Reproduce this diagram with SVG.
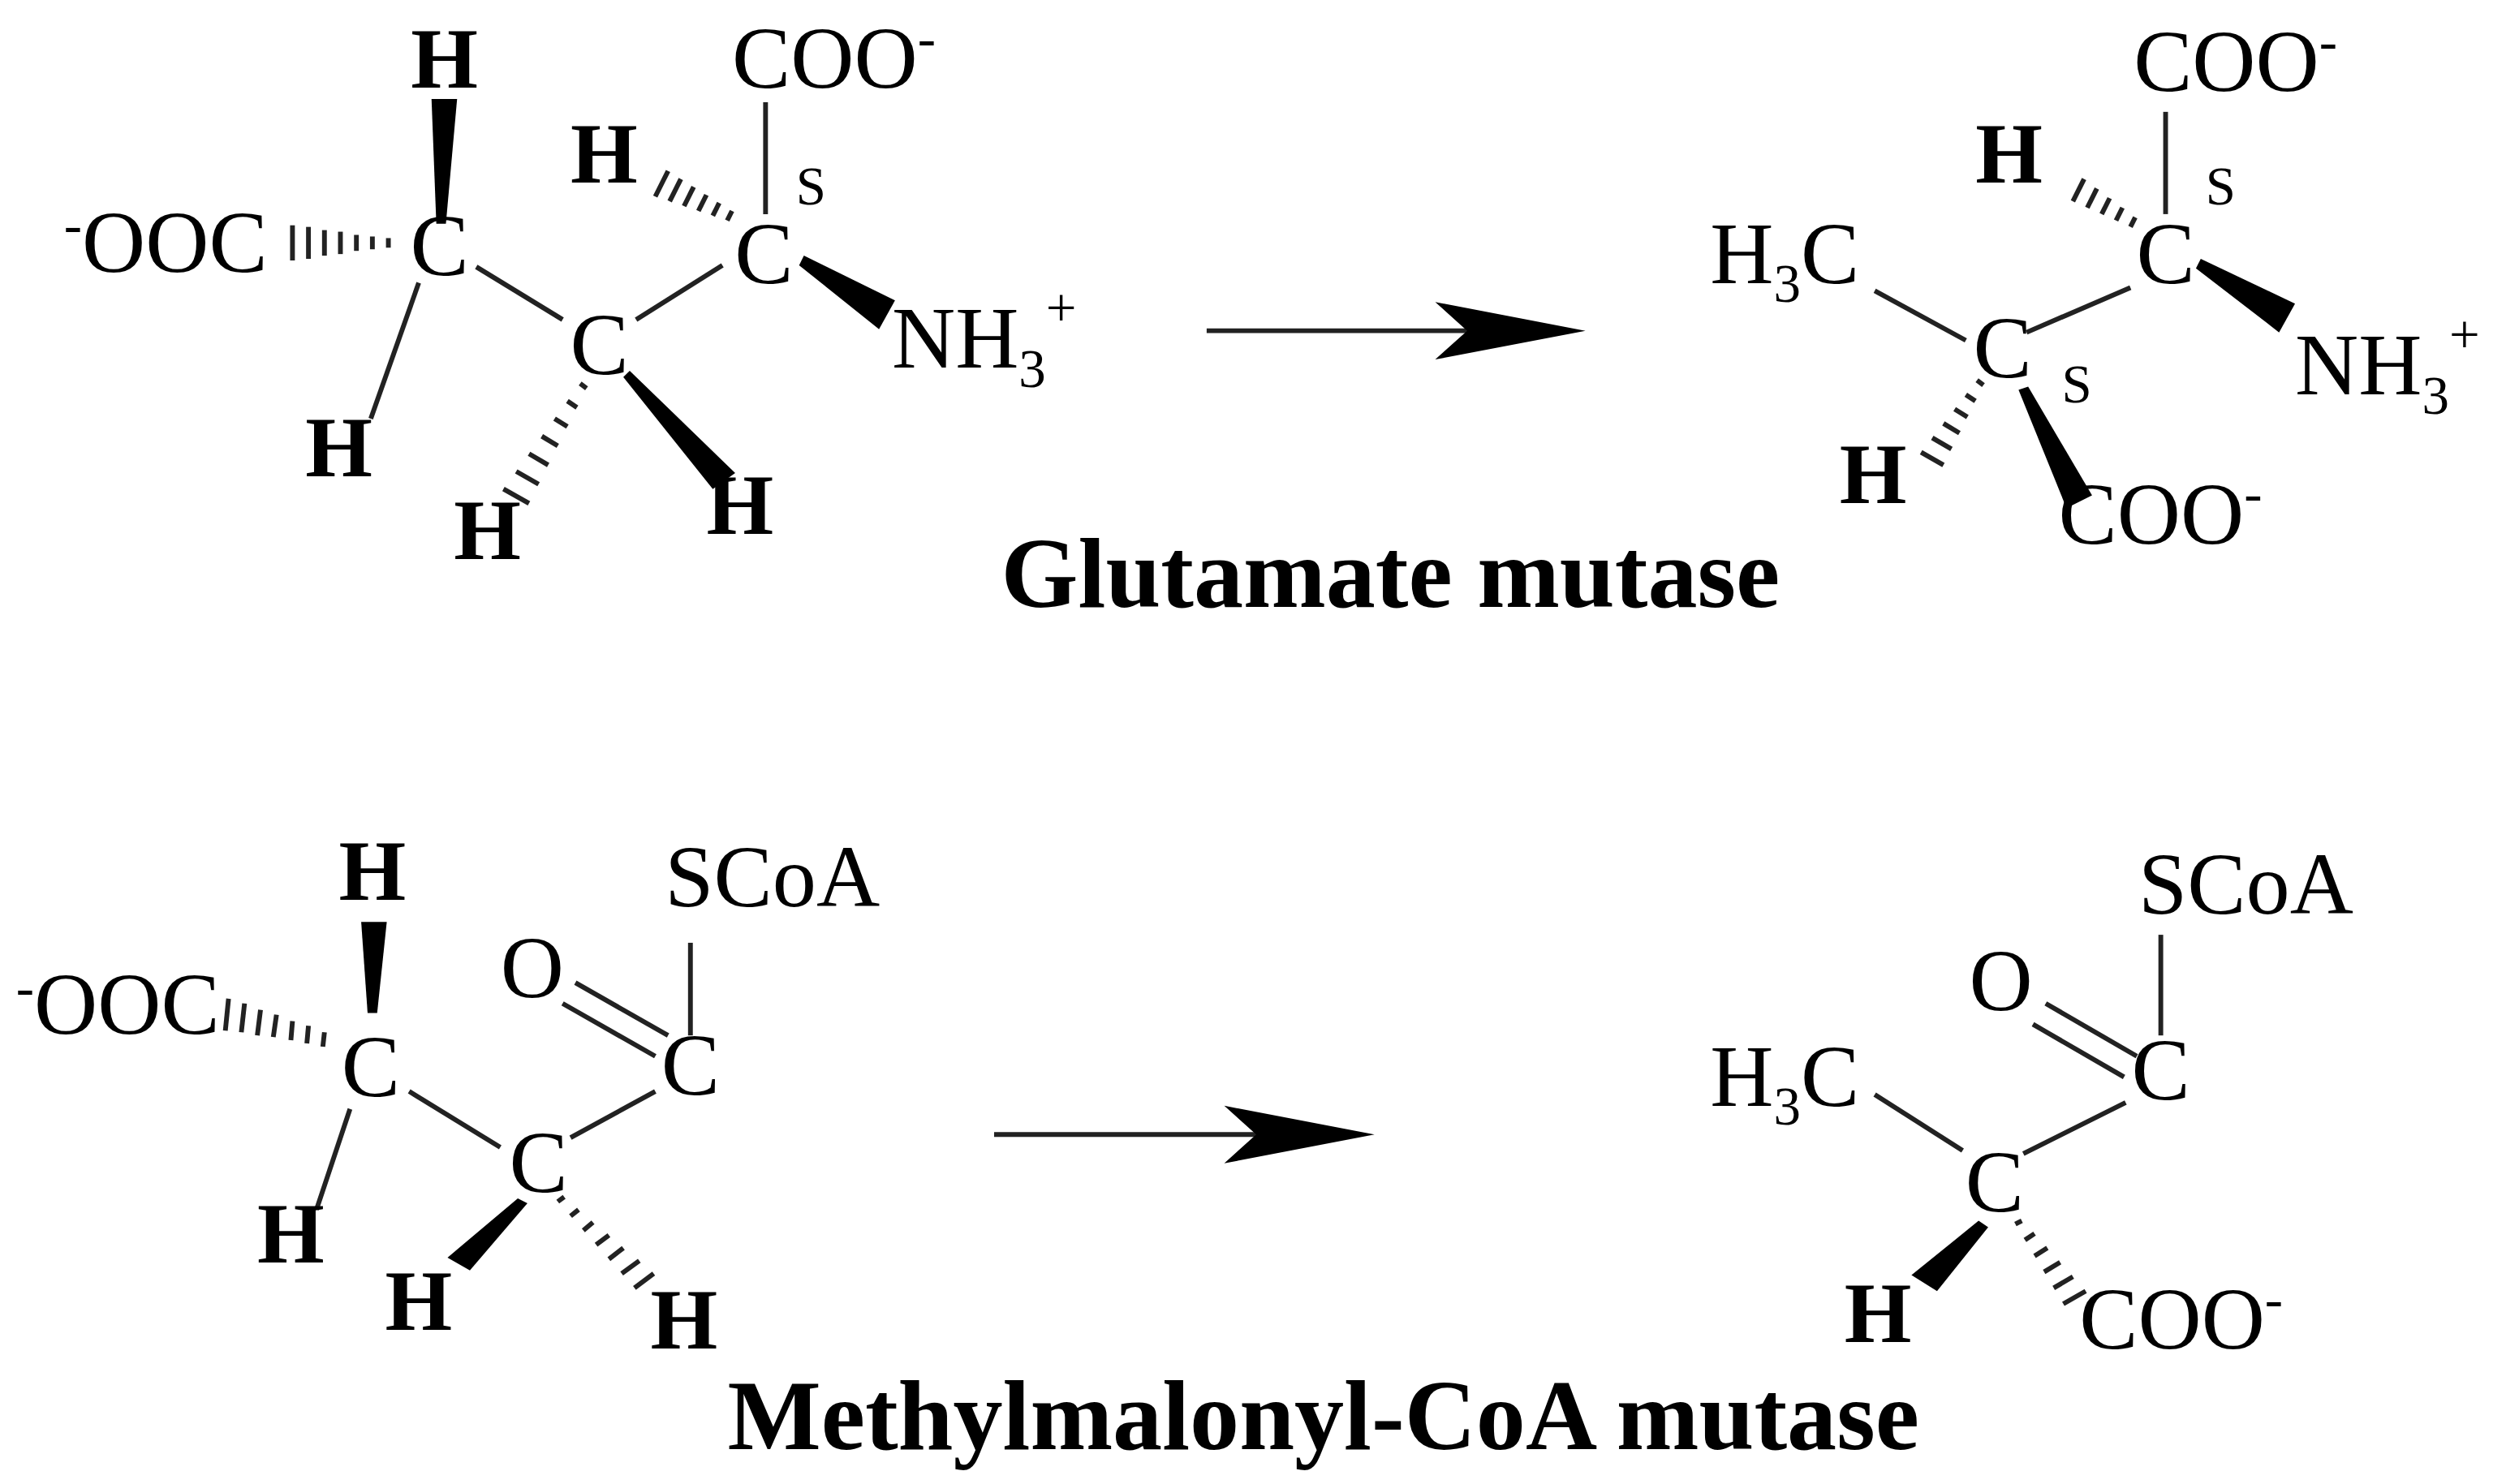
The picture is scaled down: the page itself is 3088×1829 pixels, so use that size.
<svg xmlns="http://www.w3.org/2000/svg" width="3088" height="1829" viewBox="0 0 3088 1829">
<defs>
<style>
text{font-family:"Liberation Serif","Times New Roman",serif;fill:#000}
.a{font-size:55px}
.b{font-size:54px;font-weight:bold}
.s{font-size:34px}
.t{font-size:62px;font-weight:bold}
.l{stroke:#222;stroke-width:3;fill:none}
.w{fill:#000}
</style>
</defs>
<rect width="3088" height="1829" fill="#fff"/>
<g transform="scale(1.9694)">
<g id="connectors">
<!-- top left -->
<polygon class="w" points="273,140 270,62 286,62 279,140"/>
<g stroke="#222" stroke-width="3">
<line x1="183" y1="141" x2="183" y2="163"/><line x1="193" y1="142" x2="193" y2="162"/><line x1="203" y1="144" x2="203" y2="160"/><line x1="213" y1="145" x2="213" y2="159"/><line x1="223" y1="147" x2="223" y2="157"/><line x1="233" y1="148" x2="233" y2="156"/><line x1="243" y1="149" x2="243" y2="155"/>
</g>
<line class="l" x1="262" y1="177" x2="232" y2="262"/>
<line class="l" x1="298" y1="167" x2="352" y2="200"/>
<g stroke="#222" stroke-width="3">
<line x1="363" y1="240" x2="367" y2="243"/><line x1="355" y1="251" x2="361" y2="255"/><line x1="347" y1="262" x2="355" y2="267"/><line x1="339" y1="273" x2="349" y2="279"/><line x1="331" y1="284" x2="343" y2="291"/><line x1="323" y1="295" x2="337" y2="303"/><line x1="315" y1="306" x2="331" y2="315"/>
</g>
<polygon class="w" points="390,236 394,232 460,296 446,306"/>
<line class="l" x1="398" y1="200" x2="452" y2="166"/>
<line class="l" x1="479" y1="134" x2="479" y2="64"/>
<g stroke="#222" stroke-width="3">
<line x1="455" y1="138" x2="458" y2="132"/><line x1="446" y1="135" x2="450" y2="127"/><line x1="437" y1="132" x2="442" y2="122"/><line x1="428" y1="129" x2="434" y2="117"/><line x1="419" y1="126" x2="426" y2="112"/><line x1="410" y1="123" x2="418" y2="107"/>
</g>
<polygon class="w" points="500,166 503,160 560,188 550,206"/>
<!-- top arrow -->
<line class="l" x1="755" y1="207" x2="920" y2="207"/>
<polygon class="w" points="992,207 898,189 918,207 898,225"/>
<!-- top right -->
<line class="l" x1="1355" y1="70" x2="1355" y2="134"/>
<g stroke="#222" stroke-width="3">
<line x1="1333" y1="142" x2="1336" y2="136"/><line x1="1324" y1="138" x2="1328" y2="130"/><line x1="1315" y1="134" x2="1320" y2="124"/><line x1="1306" y1="130" x2="1312" y2="118"/><line x1="1297" y1="126" x2="1304" y2="112"/>
</g>
<polygon class="w" points="1374,168 1377,162 1436,190 1426,208"/>
<line class="l" x1="1173" y1="182" x2="1230" y2="213"/>
<line class="l" x1="1268" y1="208" x2="1333" y2="180"/>
<g stroke="#222" stroke-width="3">
<line x1="1237" y1="238" x2="1241" y2="241"/><line x1="1230" y1="247" x2="1236" y2="251"/><line x1="1223" y1="256" x2="1231" y2="261"/><line x1="1216" y1="265" x2="1226" y2="271"/><line x1="1209" y1="274" x2="1221" y2="281"/><line x1="1202" y1="283" x2="1216" y2="291"/>
</g>
<polygon class="w" points="1263,244 1269,242 1309,310 1293,318"/>
<!-- bottom left -->
<polygon class="w" points="230,634 226,577 242,577 236,634"/>
<g stroke="#222" stroke-width="3">
<line x1="143" y1="625" x2="141" y2="645"/><line x1="153" y1="628" x2="151" y2="646"/><line x1="163" y1="632" x2="161" y2="648"/><line x1="173" y1="635" x2="171" y2="649"/><line x1="183" y1="639" x2="182" y2="651"/><line x1="193" y1="642" x2="192" y2="653"/><line x1="203" y1="646" x2="202" y2="655"/>
</g>
<line class="l" x1="219" y1="694" x2="198" y2="757"/>
<line class="l" x1="256" y1="683" x2="313" y2="718"/>
<line class="l" x1="357" y1="712" x2="410" y2="683"/>
<line class="l" x1="432" y1="648" x2="432" y2="590"/>
<line class="l" x1="360" y1="615" x2="418" y2="648"/>
<line class="l" x1="352" y1="628" x2="410" y2="661"/>
<polygon class="w" points="324,750 330,753 294,795 280,787"/>
<g stroke="#222" stroke-width="3">
<line x1="349" y1="752" x2="353" y2="749"/><line x1="357" y1="761" x2="362" y2="757"/><line x1="365" y1="770" x2="371" y2="765"/><line x1="373" y1="779" x2="381" y2="773"/><line x1="381" y1="788" x2="390" y2="781"/><line x1="389" y1="797" x2="400" y2="789"/><line x1="397" y1="806" x2="409" y2="797"/>
</g>
<!-- bottom arrow -->
<line class="l" x1="622" y1="710" x2="790" y2="710"/>
<polygon class="w" points="860,710 766,692 786,710 766,728"/>
<!-- bottom right -->
<line class="l" x1="1352" y1="585" x2="1352" y2="648"/>
<line class="l" x1="1280" y1="628" x2="1337" y2="661"/>
<line class="l" x1="1272" y1="641" x2="1329" y2="674"/>
<line class="l" x1="1173" y1="685" x2="1228" y2="720"/>
<line class="l" x1="1266" y1="722" x2="1330" y2="690"/>
<polygon class="w" points="1238,764 1244,768 1212,808 1196,798"/>
<g stroke="#222" stroke-width="3">
<line x1="1261" y1="766" x2="1265" y2="764"/><line x1="1267" y1="776" x2="1273" y2="772"/><line x1="1273" y1="786" x2="1281" y2="781"/><line x1="1279" y1="796" x2="1289" y2="790"/><line x1="1285" y1="806" x2="1297" y2="799"/><line x1="1291" y1="816" x2="1305" y2="808"/>
</g>
</g>
<g id="glutamate">
<text class="b" x="278" y="55" text-anchor="middle">H</text>
<text class="a" x="40" y="170"><tspan class="s" dy="-18">-</tspan><tspan dy="18">OOC</tspan></text>
<text class="a" x="275" y="172" text-anchor="middle">C</text>
<text class="b" x="212" y="298" text-anchor="middle">H</text>
<text class="a" x="375" y="234" text-anchor="middle">C</text>
<text class="b" x="305" y="350" text-anchor="middle">H</text>
<text class="b" x="463" y="334" text-anchor="middle">H</text>
<text class="a" x="478" y="177" text-anchor="middle">C</text>
<text class="a" x="458" y="55">COO<tspan class="s" dy="-20">-</tspan></text>
<text class="s" x="498" y="128">S</text>
<text class="b" x="378" y="114" text-anchor="middle">H</text>
<text class="a" x="558" y="230">NH<tspan class="s" dy="12">3</tspan><tspan class="s" dy="-38">+</tspan></text>
</g>
<g id="product1">
<text class="a" x="1335" y="57">COO<tspan class="s" dy="-20">-</tspan></text>
<text class="s" x="1380" y="128">S</text>
<text class="a" x="1355" y="177" text-anchor="middle">C</text>
<text class="b" x="1257" y="114" text-anchor="middle">H</text>
<text class="a" x="1436" y="247">NH<tspan class="s" dy="12">3</tspan><tspan class="s" dy="-38">+</tspan></text>
<text class="a" x="1070" y="177">H<tspan class="s" dy="12">3</tspan><tspan dy="-12">C</tspan></text>
<text class="a" x="1253" y="236" text-anchor="middle">C</text>
<text class="s" x="1290" y="252">S</text>
<text class="b" x="1172" y="315" text-anchor="middle">H</text>
<text class="a" x="1288" y="340">COO<tspan class="s" dy="-20">-</tspan></text>
</g>
<text class="t" x="870" y="380" text-anchor="middle">Glutamate mutase</text>
<g id="methylmalonyl">
<text class="b" x="233" y="563" text-anchor="middle">H</text>
<text class="a" x="10" y="647"><tspan class="s" dy="-18">-</tspan><tspan dy="18">OOC</tspan></text>
<text class="a" x="232" y="686" text-anchor="middle">C</text>
<text class="b" x="182" y="790" text-anchor="middle">H</text>
<text class="a" x="337" y="746" text-anchor="middle">C</text>
<text class="b" x="262" y="832" text-anchor="middle">H</text>
<text class="b" x="428" y="844" text-anchor="middle">H</text>
<text class="a" x="432" y="685" text-anchor="middle">C</text>
<text class="a" x="416" y="567">SCoA</text>
<text class="a" x="333" y="624" text-anchor="middle">O</text>
</g>
<g id="product2">
<text class="a" x="1338" y="572">SCoA</text>
<text class="a" x="1252" y="632" text-anchor="middle">O</text>
<text class="a" x="1352" y="688" text-anchor="middle">C</text>
<text class="a" x="1070" y="692">H<tspan class="s" dy="12">3</tspan><tspan dy="-12">C</tspan></text>
<text class="a" x="1248" y="758" text-anchor="middle">C</text>
<text class="b" x="1175" y="840" text-anchor="middle">H</text>
<text class="a" x="1301" y="844">COO<tspan class="s" dy="-20">-</tspan></text>
</g>
<text class="t" x="828" y="907" text-anchor="middle">Methylmalonyl-CoA mutase</text>
</g>
</svg>
